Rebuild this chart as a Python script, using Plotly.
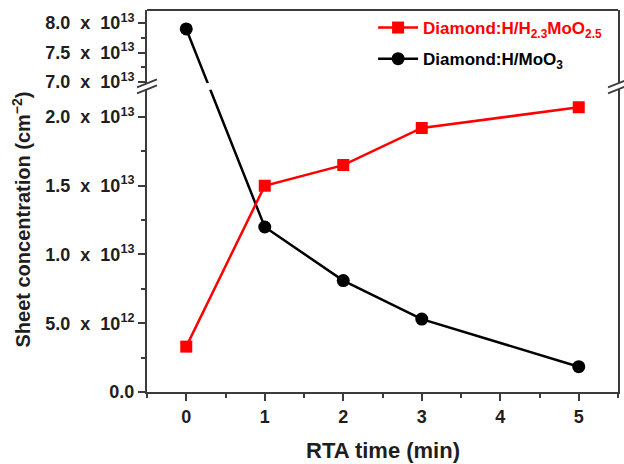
import plotly.graph_objects as go

# RTA time (min)
rta_time = [0, 1, 2, 3, 5]
# Sheet concentration (cm^-2)
h23moo25 = [3.3e12, 1.5e13, 1.65e13, 1.92e13, 2.07e13]
moo3_time = [0, 1, 2, 3, 5]
moo3 = [7.9e13, 1.2e13, 8.1e12, 5.3e12, 1.84e12]

SP = "\u00a0\u00a0"
lower_ticks = [0, 5e12, 1e13, 1.5e13, 2e13]
lower_text = ["0.0", f"5.0{SP}x{SP}10<sup>12</sup>", f"1.0{SP}x{SP}10<sup>13</sup>",
              f"1.5{SP}x{SP}10<sup>13</sup>", f"2.0{SP}x{SP}10<sup>13</sup>"]
upper_ticks = [7e13, 7.5e13, 8e13]
upper_text = [f"7.0{SP}x{SP}10<sup>13</sup>", f"7.5{SP}x{SP}10<sup>13</sup>",
              f"8.0{SP}x{SP}10<sup>13</sup>"]

# broken y axis: two stacked ranges sharing one x axis
lower_range = [0, 2.2e13]
upper_range = [6.98e13, 8.22e13]
lower_dom = [0.0, 0.792]
upper_dom = [0.808, 1.0]

RED = "#ff0000"
BLACK = "#000000"
FRAME = "#3c3c3c"
TEXT = "#1e1e1e"
FONT = "Liberation Sans, Arial, sans-serif"


def to_paper(v, rng, dom):
    return dom[0] + (v - rng[0]) / (rng[1] - rng[0]) * (dom[1] - dom[0])


# the 0 -> 1 min segment of the MoO3 curve crosses the break; split it
# where the straight line leaves the upper range and enters the lower one
x0, x1 = moo3_time[0], moo3_time[1]
p0 = to_paper(moo3[0], upper_range, upper_dom)
p1 = to_paper(moo3[1], lower_range, lower_dom)


def x_at(p):
    return x0 + (p - p0) / (p1 - p0) * (x1 - x0)


xu = x_at(upper_dom[0])
xl = x_at(lower_dom[1])

fig = go.Figure()

fig.add_trace(go.Scatter(
    x=[x0, xu], y=[moo3[0], upper_range[0]], xaxis="x", yaxis="y2",
    mode="lines", line=dict(color=BLACK, width=2.5), showlegend=False))
fig.add_trace(go.Scatter(
    x=[moo3_time[0]], y=[moo3[0]], xaxis="x", yaxis="y2", mode="markers",
    marker=dict(symbol="circle", size=13, color=BLACK), showlegend=False))
fig.add_trace(go.Scatter(
    x=[xl] + moo3_time[1:], y=[lower_range[1]] + moo3[1:], xaxis="x", yaxis="y",
    mode="lines", line=dict(color=BLACK, width=2.5), showlegend=False))
fig.add_trace(go.Scatter(
    x=rta_time, y=h23moo25, xaxis="x", yaxis="y", mode="lines+markers",
    name="<b><span style='color:#ff0000'>Diamond:H/H<sub>2.3</sub>MoO<sub>2.5</sub></span></b>",
    legendgroup="a",
    line=dict(color=RED, width=2.5),
    marker=dict(symbol="square", size=12, color=RED)))
fig.add_trace(go.Scatter(
    x=moo3_time[1:], y=moo3[1:], xaxis="x", yaxis="y", mode="markers",
    marker=dict(symbol="circle", size=13, color=BLACK), showlegend=False))
# legend entry for the MoO3 curve
fig.add_trace(go.Scatter(
    x=[None], y=[None], xaxis="x", yaxis="y", mode="lines+markers",
    name="<b>Diamond:H/MoO<sub>3</sub></b>", legendgroup="b",
    line=dict(color=BLACK, width=2.5),
    marker=dict(symbol="circle", size=13, color=BLACK)))

tickfont = dict(family=FONT, size=18, color=TEXT)

axis_common = dict(
    ticks="outside", ticklen=7, tickwidth=2, tickcolor=FRAME,
    showline=True, linecolor=FRAME, linewidth=2,
    showgrid=False, zeroline=False, tickfont=tickfont)

fig.update_layout(
    width=624, height=464,
    margin=dict(l=147, r=4, t=10, b=72),
    paper_bgcolor="white", plot_bgcolor="white",
    font=dict(family=FONT, color=TEXT),
    xaxis=dict(
        range=[-0.5, 5.5], anchor="y", tickvals=[0, 1, 2, 3, 4, 5],
        ticktext=["<b>%d</b>" % v for v in [0, 1, 2, 3, 4, 5]],
        minor=dict(ticks="outside", ticklen=4, tickwidth=2, tickcolor=FRAME,
                   tick0=0.5, dtick=1),
        mirror=False, **axis_common),
    yaxis=dict(
        domain=lower_dom, range=lower_range, anchor="x",
        tickvals=lower_ticks, ticktext=["<b>%s</b>" % t for t in lower_text],
        minor=dict(ticks="outside", ticklen=4, tickwidth=2, tickcolor=FRAME,
                   tick0=0, dtick=2.5e12),
        mirror=True, **axis_common),
    yaxis2=dict(
        domain=upper_dom, range=upper_range, anchor="x",
        tickvals=upper_ticks, ticktext=["<b>%s</b>" % t for t in upper_text],
        minor=dict(ticks="outside", ticklen=4, tickwidth=2, tickcolor=FRAME,
                   tick0=7e13, dtick=2.5e12),
        mirror=True, **axis_common),
    legend=dict(
        x=0.48, y=1.0, xanchor="left", yanchor="top",
        bgcolor="rgba(0,0,0,0)", font=dict(family=FONT, size=17, color=BLACK),
        itemwidth=40, tracegroupgap=6),
    showlegend=True,
)

# top edge of the frame
fig.add_shape(type="line", xref="paper", yref="paper", x0=0, x1=1, y0=1, y1=1,
              line=dict(color=FRAME, width=2))

# break marks on both vertical axes
plot_w, plot_h = 624 - 147 - 4, 464 - 10 - 72
mid = (lower_dom[1] + upper_dom[0]) / 2
dx, dy, sep = 10 / plot_w, 4 / plot_h, 3 / plot_h
for xc in (0, 1):
    for off in (-sep, sep):
        fig.add_shape(type="line", xref="paper", yref="paper",
                      x0=xc - dx, x1=xc + dx,
                      y0=mid + off - dy, y1=mid + off + dy,
                      line=dict(color=FRAME, width=2))

fig.add_annotation(
    text="<b>Sheet concentration (cm<sup>\u22122</sup>)</b>",
    xref="paper", yref="paper", x=(20 - 147) / plot_w, y=(392 - 220) / plot_h,
    textangle=-90, showarrow=False, xanchor="center", yanchor="middle",
    font=dict(family=FONT, size=20, color=TEXT))
fig.add_annotation(
    text="<b>RTA time (min)</b>",
    xref="paper", yref="paper", x=0.5, y=(392 - 450) / plot_h,
    showarrow=False, xanchor="center", yanchor="middle",
    font=dict(family=FONT, size=22, color=TEXT))

fig.write_html("out.html")
